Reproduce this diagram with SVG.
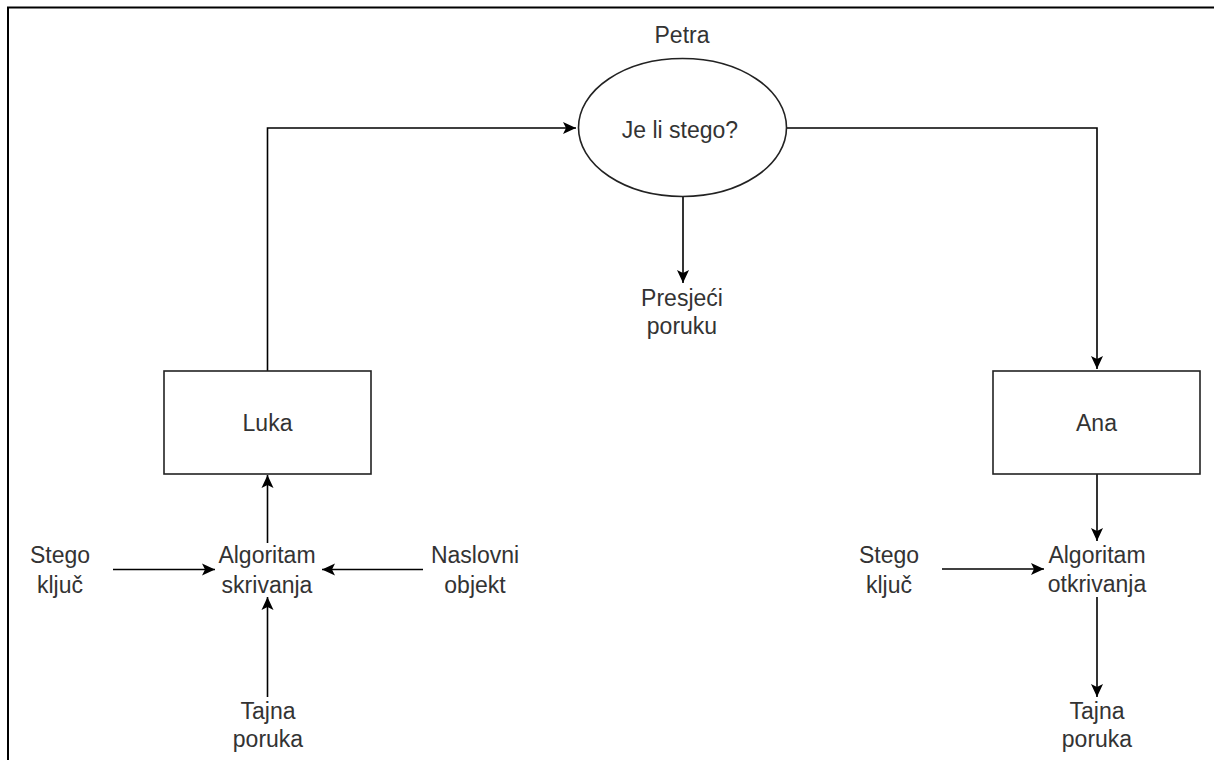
<svg xmlns="http://www.w3.org/2000/svg" width="1214" height="760" viewBox="0 0 1214 760">
<style>
.t{font-family:"Liberation Sans",Arial,sans-serif;font-size:23px;fill:#333;text-anchor:middle}
.box{fill:#fff;stroke:#222;stroke-width:1.6}
.c{fill:none;stroke:#000;stroke-width:1.6}
</style>
<defs>
<marker id="arr" markerUnits="userSpaceOnUse" markerWidth="16" markerHeight="16" viewBox="-14 -8 16 16" refX="0" refY="0" orient="auto">
<path d="M0,0 L-13,-6 L-10,0 L-13,6 Z" fill="#000"/>
</marker>
</defs>
<rect width="1214" height="760" fill="#fff"/>
<rect id="frame" x="8" y="7.5" width="1300" height="900" fill="none" stroke="#000" stroke-width="2"/>
<g id="connectors">
<path class="c" d="M267.5,371 V128 H576" marker-end="url(#arr)"/>
<path class="c" d="M787,128 H1097 V369" marker-end="url(#arr)"/>
<path class="c" d="M683,197 V283" marker-end="url(#arr)"/>
<path class="c" d="M267.5,543 V475" marker-end="url(#arr)"/>
<path class="c" d="M113,569.5 H215" marker-end="url(#arr)"/>
<path class="c" d="M423,569.5 H322" marker-end="url(#arr)"/>
<path class="c" d="M267.5,697 V597" marker-end="url(#arr)"/>
<path class="c" d="M1097,474 V541" marker-end="url(#arr)"/>
<path class="c" d="M942,569 H1044" marker-end="url(#arr)"/>
<path class="c" d="M1097,597 V697" marker-end="url(#arr)"/>
</g>
<g id="petra">
<ellipse class="box" cx="682.5" cy="127.5" rx="104" ry="69"/>
<text class="t" x="682" y="43">Petra</text>
<text class="t" x="680" y="137.5">Je li stego?</text>
</g>
<g id="presjeci">
<text class="t" x="682" y="306">Presjeći</text>
<text class="t" x="682" y="334">poruku</text>
</g>
<g id="luka">
<rect class="box" x="164" y="371" width="207" height="103"/>
<text class="t" x="267.5" y="430.5">Luka</text>
</g>
<g id="ana">
<rect class="box" x="993" y="371" width="207" height="103"/>
<text class="t" x="1096.5" y="430.5">Ana</text>
</g>
<g id="stego-kljuc-l">
<text class="t" x="60" y="563">Stego</text>
<text class="t" x="60" y="592.5">ključ</text>
</g>
<g id="alg-skrivanja">
<text class="t" x="267" y="563">Algoritam</text>
<text class="t" x="267" y="592.5">skrivanja</text>
</g>
<g id="naslovni">
<text class="t" x="475" y="563">Naslovni</text>
<text class="t" x="475" y="592.5">objekt</text>
</g>
<g id="tajna-l">
<text class="t" x="268" y="718.5">Tajna</text>
<text class="t" x="268" y="746.5">poruka</text>
</g>
<g id="stego-kljuc-r">
<text class="t" x="889" y="563">Stego</text>
<text class="t" x="889" y="592.5">ključ</text>
</g>
<g id="alg-otkrivanja">
<text class="t" x="1097" y="563">Algoritam</text>
<text class="t" x="1097" y="592">otkrivanja</text>
</g>
<g id="tajna-r">
<text class="t" x="1097" y="718.5">Tajna</text>
<text class="t" x="1097" y="746.5">poruka</text>
</g>
</svg>
